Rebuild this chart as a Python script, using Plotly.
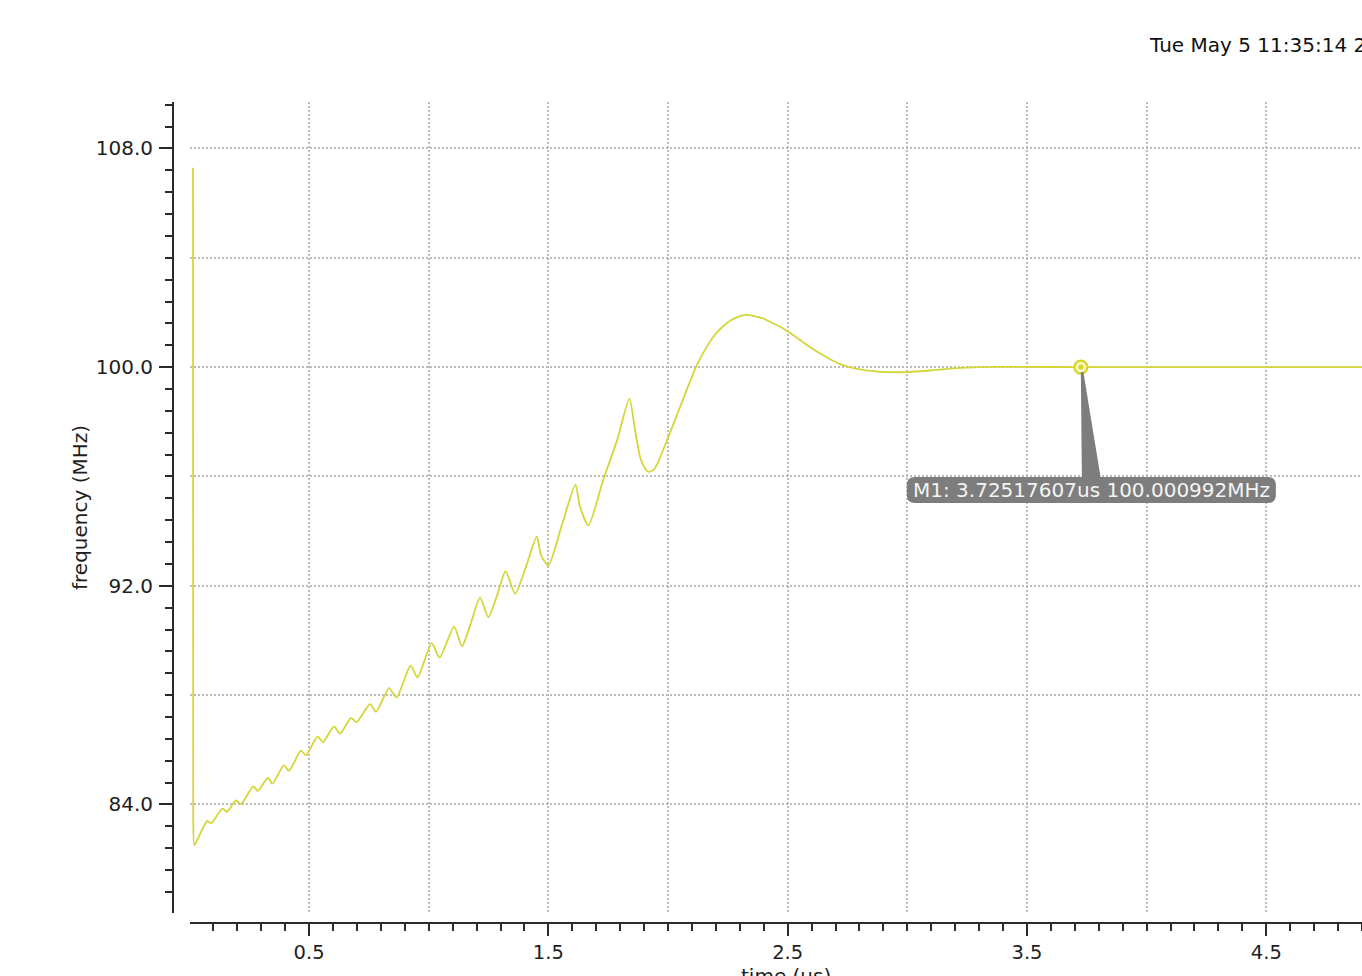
import plotly.graph_objects as go

# ---------------- data ----------------
time_us = [
    0.0150, 0.0160, 0.0205, 0.0443, 0.0744, 0.0903, 0.1383, 0.1572, 0.1939,
    0.2157, 0.2671, 0.2855, 0.3285, 0.3465, 0.3946, 0.4163, 0.4656, 0.4874,
    0.5354, 0.5584, 0.6036, 0.6295, 0.6754, 0.6984, 0.7549, 0.7799, 0.8343,
    0.8656, 0.9241, 0.9534, 1.0127, 1.0453, 1.1060, 1.1394, 1.1770, 1.2146,
    1.2493, 1.2857, 1.3212, 1.3609, 1.4069, 1.4516, 1.4696, 1.5001, 1.5574,
    1.6130, 1.6326, 1.6673, 1.7287, 1.7872, 1.8386, 1.8625, 1.8834, 1.9001,
    1.9189, 1.9398, 1.9544, 1.9962, 2.0506, 2.1204, 2.1550, 2.1898, 2.2241,
    2.2596, 2.2930, 2.3294, 2.3587, 2.3987, 2.4268, 2.4686, 2.5104, 2.5522,
    2.5940, 2.6357, 2.6776, 2.7193, 2.7612, 2.8029, 2.8865, 2.9981, 3.1093,
    3.2209, 3.3325, 3.4424, 3.7252, 4.9000,
]
freq_mhz = [
    107.29, 84.00, 82.52, 82.92, 83.40, 83.31, 83.85, 83.73, 84.15,
    84.02, 84.66, 84.50, 84.98, 84.76, 85.43, 85.23, 85.97, 85.80,
    86.49, 86.28, 86.86, 86.59, 87.17, 87.01, 87.67, 87.39, 88.26,
    87.91, 89.08, 88.65, 89.90, 89.37, 90.51, 89.79, 90.66, 91.58,
    90.85, 91.65, 92.54, 91.71, 92.71, 93.81, 93.11, 92.74, 94.25,
    95.70, 94.88, 94.21, 95.86, 97.33, 98.85, 97.69, 96.71, 96.35,
    96.17, 96.24, 96.45, 97.33, 98.55, 100.07, 100.64, 101.11, 101.45,
    101.70, 101.84, 101.91, 101.87, 101.78, 101.65, 101.48, 101.25, 100.99,
    100.73, 100.50, 100.29, 100.11, 99.99, 99.92, 99.83, 99.82, 99.89,
    99.97, 100.01, 100.01, 100.001, 100.00,
]

# marker M1
M1_T = 3.72517607   # us
M1_F = 100.000992   # MHz

# axis ticks / grid
X_RANGE = [0.0025, 4.9]
Y_RANGE = [80.03, 109.7]
X_LABEL_TICK0, X_LABEL_DTICK = 0.5, 1.0
X_MINOR_DTICK = 0.1
X_GRID_EXTRA = [1.0, 2.0, 3.0, 4.0]
Y_LABEL_TICK0, Y_LABEL_DTICK = 84.0, 8.0
Y_MINOR_DTICK = 0.8
Y_GRID_EXTRA = [88.0, 96.0, 104.0]

DATE_TEXT = "Tue May 5 11:35:14 2020"
X_TITLE = "time (us)"
Y_TITLE = "frequency (MHz)"

# ---------------- style ----------------
W, H = 1362, 976
FONT = "DejaVu Sans"
AXIS_COLOR = "#2b2b2b"
GRID_COLOR = "#bcbcbc"
GRID_DASH = "2px,2px"
LINE_COLOR = "#d4d636"
MARK_COLOR = "#d6d61e"
BOX_COLOR = "#7d7d7d"

plot_left, plot_right = 190, W
plot_top, plot_bottom = 102, 913
xaxis_line_y = 923
yaxis_line_x = 173

fig = go.Figure()
fig.add_trace(go.Scatter(
    x=time_us, y=freq_mhz, mode="lines",
    line=dict(color=LINE_COLOR, width=1.8, shape="spline", smoothing=0.6),
    hoverinfo="skip", showlegend=False,
))
fig.add_trace(go.Scatter(
    x=[M1_T], y=[M1_F], mode="markers", xaxis="x2", yaxis="y2",
    marker=dict(symbol="circle", size=13, color="#f6f6c8",
                line=dict(width=2.2, color=MARK_COLOR)),
    hoverinfo="skip", showlegend=False,
))
fig.add_trace(go.Scatter(
    x=[M1_T], y=[M1_F], mode="markers", xaxis="x2", yaxis="y2",
    marker=dict(symbol="circle", size=5, color=MARK_COLOR,
                line=dict(width=0)),
    hoverinfo="skip", showlegend=False,
))

common_grid = dict(showgrid=True, gridcolor=GRID_COLOR, griddash=GRID_DASH,
                   gridwidth=1.5, zeroline=False)

xdomain = [plot_left / W, plot_right / W]
ydomain = [(H - plot_bottom) / H, (H - plot_top) / H]

fig.update_layout(
    template="none",
    width=W, height=H,
    margin=dict(l=0, r=0, t=0, b=0, pad=0),
    paper_bgcolor="white", plot_bgcolor="rgba(0,0,0,0)",
    showlegend=False,
    font=dict(family=FONT, size=19, color="#1e1e1e"),
    xaxis=dict(
        domain=xdomain, range=X_RANGE, anchor="free",
        position=(H - xaxis_line_y) / H,
        showline=True, linecolor=AXIS_COLOR, linewidth=2,
        ticks="outside", ticklen=12, tickwidth=2, tickcolor=AXIS_COLOR,
        tickmode="linear", tick0=X_LABEL_TICK0, dtick=X_LABEL_DTICK,
        tickformat=".1f", tickfont=dict(size=19.5),
        minor=dict(ticks="outside", ticklen=7, tickwidth=2,
                   tickcolor=AXIS_COLOR, tickmode="linear",
                   tick0=0, dtick=X_MINOR_DTICK, showgrid=False),
        **common_grid,
    ),
    yaxis=dict(
        domain=ydomain, range=Y_RANGE, anchor="free",
        position=yaxis_line_x / W,
        showline=True, linecolor=AXIS_COLOR, linewidth=2,
        ticks="outside", ticklen=13, tickwidth=2, tickcolor=AXIS_COLOR,
        tickmode="linear", tick0=Y_LABEL_TICK0, dtick=Y_LABEL_DTICK,
        tickformat=".1f", tickfont=dict(size=20), ticklabelstandoff=2,
        minor=dict(ticks="outside", ticklen=7, tickwidth=2,
                   tickcolor=AXIS_COLOR, tickmode="linear",
                   tick0=Y_LABEL_TICK0, dtick=Y_MINOR_DTICK, showgrid=False),
        **common_grid,
    ),
    xaxis2=dict(
        overlaying="x", range=X_RANGE, anchor="free",
        position=(H - xaxis_line_y) / H,
        tickmode="array", tickvals=X_GRID_EXTRA,
        showticklabels=False, ticks="", showline=False,
        **common_grid,
    ),
    yaxis2=dict(
        overlaying="y", range=Y_RANGE, anchor="free",
        position=yaxis_line_x / W,
        tickmode="array", tickvals=Y_GRID_EXTRA,
        showticklabels=False, ticks="", showline=False,
        **common_grid,
    ),
)

# marker label: rounded box + pointer, positioned in pixels relative to M1
x0, x1, yt, yb, r = -174, 195, -110, -136, 8
box_path = (
    f"M {x0 + r},{yt} L {x1 - r},{yt} Q {x1},{yt} {x1},{yt - r} "
    f"L {x1},{yb + r} Q {x1},{yb} {x1 - r},{yb} L {x0 + r},{yb} "
    f"Q {x0},{yb} {x0},{yb + r} L {x0},{yt - r} Q {x0},{yt} {x0 + r},{yt} Z"
)
wedge_path = "M 0,-5 L 2.5,-5 L 20,-112 L 1,-112 Z"
for p in (wedge_path, box_path):
    fig.add_shape(
        type="path", path=p, xref="x", yref="y",
        xsizemode="pixel", ysizemode="pixel",
        xanchor=M1_T, yanchor=M1_F,
        fillcolor=BOX_COLOR, line=dict(width=0), layer="above",
    )

fig.add_annotation(
    x=M1_T, y=M1_F, xref="x", yref="y", showarrow=False,
    text=f"M1: {M1_T:.8f}us {M1_F:.6f}MHz",
    xshift=11, yshift=-123, xanchor="center", yanchor="middle",
    font=dict(family=FONT, size=20, color="#f4f4f4"),
)

fig.add_annotation(
    x=1147 / W, y=(H - 45) / H, xref="paper", yref="paper",
    text=DATE_TEXT, showarrow=False, xanchor="left", yanchor="middle",
    font=dict(family=FONT, size=20, color="#111111"),
)
fig.add_annotation(
    x=80 / W, y=(H - 508) / H, xref="paper", yref="paper",
    text=Y_TITLE, showarrow=False, textangle=-90,
    xanchor="center", yanchor="middle",
    font=dict(family=FONT, size=20, color="#1e1e1e"),
)
fig.add_annotation(
    x=786 / W, y=(H - 962) / H, xref="paper", yref="paper",
    text=X_TITLE, showarrow=False, xanchor="center", yanchor="top",
    font=dict(family=FONT, size=20, color="#1e1e1e"),
)

fig.write_html(
    "out.html",
    config={"displayModeBar": False},
    post_script="document.body.style.margin='0';document.body.style.overflow='hidden';",
)
